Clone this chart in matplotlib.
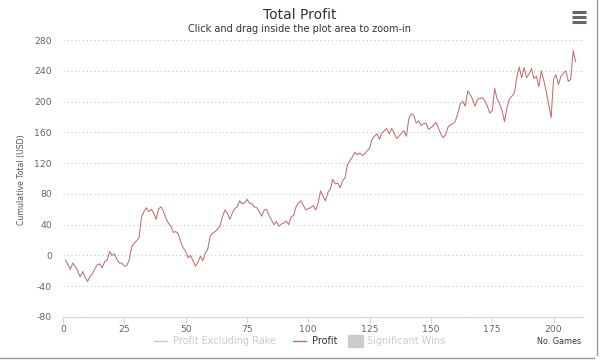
import matplotlib
matplotlib.use("Agg")
import matplotlib.pyplot as plt
from matplotlib.lines import Line2D
from matplotlib.patches import Rectangle

# ---- data -------------------------------------------------------------
profit = [
    -6, -12, -18, -10, -14, -20, -28, -21, -28, -34,
    -27, -24, -17, -12, -11, -16, -8, -6, 5, 0,
    2, -5, -10, -10, -14, -13, -6, 11, 16, 19,
    23, 50, 57, 62, 57, 60, 55, 47, 61, 63,
    57, 48, 42, 38, 30, 31, 28, 18, 10, 5,
    -3, 0, -7, -14, -9, -1, -7, 3, 8, 25,
    29, 31, 34, 38, 50, 59, 55, 47, 55, 61,
    63, 71, 67, 68, 73, 68, 67, 63, 62, 57,
    51, 59, 60, 52, 46, 40, 44, 38, 41, 42,
    45, 40, 50, 52, 63, 68, 71, 65, 59, 61,
    62, 65, 59, 68, 84, 77, 71, 82, 86, 99,
    93, 94, 88, 97, 101, 118, 123, 128, 134, 131,
    133, 130, 132, 136, 139, 151, 155, 158, 151, 159,
    162, 165, 158, 165, 159, 152, 155, 159, 162, 155,
    178, 184, 182, 172, 175, 169, 171, 172, 164, 166,
    169, 173, 166, 158, 153, 157, 167, 170, 171, 175,
    185, 197, 200, 194, 214, 209, 203, 194, 203, 204,
    205, 201, 194, 185, 188, 217, 203, 197, 188, 174,
    192, 203, 207, 211, 231, 245, 231, 244, 231, 236,
    243, 230, 233, 219, 240, 228, 213, 196, 179, 229,
    235, 222, 233, 237, 240, 226, 229, 266, 252,
]
games = list(range(1, len(profit) + 1))

x_ticks = [0, 25, 50, 75, 100, 125, 150, 175, 200]
y_ticks = [-80, -40, 0, 40, 80, 120, 160, 200, 240, 280]

title = "Total Profit"
subtitle = "Click and drag inside the plot area to zoom-in"
y_label = "Cumulative Total (USD)"
x_label = "No. Games"
legend_names = ["Profit Excluding Rake", "Profit", "Significant Wins"]

# ---- figure -----------------------------------------------------------
W, H = 601, 363
fig = plt.figure(figsize=(W / 100, H / 100), dpi=100)
fig.patch.set_facecolor("white")

def fx(px):
    return px / W

def fy(py):
    return 1 - py / H

left, right, top, bottom = 63, 583, 40, 317
ax = fig.add_axes([fx(left), fy(bottom), (right - left) / W, (bottom - top) / H])

line_color = "#c26e70"
ax.plot(games, profit, color=line_color, lw=0.75, solid_joinstyle="round")

ax.set_xlim(0, 212)
ax.set_ylim(-80, 280)
ax.set_xticks(x_ticks)
ax.set_yticks(y_ticks)
ax.set_xticklabels([str(v) for v in x_ticks])
ax.set_yticklabels([str(v) for v in y_ticks])

ax.yaxis.grid(True, linestyle=(0, (1, 2.5)), color="#c8c8c8", lw=0.8)
ax.set_axisbelow(True)
for s in ["top", "right", "left"]:
    ax.spines[s].set_visible(False)
ax.spines["bottom"].set_color("#ccd6eb")
ax.spines["bottom"].set_linewidth(0.8)

ax.tick_params(axis="y", length=0, pad=8, labelsize=6.7, labelcolor="#666666")
ax.tick_params(axis="x", length=4, width=0.8, color="#ccd6eb", pad=2,
               labelsize=6.7, labelcolor="#666666")

# titles
fig.text(fx(300), fy(15), title, ha="center", va="center", fontsize=10, color="#333333")
fig.text(fx(300), fy(29), subtitle, ha="center", va="center", fontsize=7, color="#333333")
fig.text(fx(22), fy(180), y_label, rotation=90, ha="center", va="center",
         fontsize=5.6, color="#555555")
fig.text(fx(581), fy(342), x_label, ha="right", va="center", fontsize=5.8, color="#333333")

# legend (manual, Highcharts style)
ly = 341
fig.add_artist(Line2D([fx(154), fx(167)], [fy(ly), fy(ly)], color="#cccccc", lw=1.0))
fig.text(fx(173), fy(ly), legend_names[0], ha="left", va="center", fontsize=7, color="#cccccc")
fig.add_artist(Line2D([fx(293), fx(306)], [fy(ly), fy(ly)], color=line_color, lw=1.0))
fig.text(fx(312), fy(ly), legend_names[1], ha="left", va="center", fontsize=7, color="#333333")
fig.add_artist(Rectangle((fx(348), fy(ly + 6)), 15 / W, 12 / H, color="#cccccc",
                         transform=fig.transFigure))
fig.text(fx(367), fy(ly), legend_names[2], ha="left", va="center", fontsize=7, color="#cccccc")

# menu icon
for yy in (12, 17, 22):
    fig.add_artist(Line2D([fx(572), fx(586)], [fy(yy), fy(yy)], color="#666666",
                          lw=2.2, solid_capstyle="butt"))

# outer frame (right / bottom)
fig.add_artist(Line2D([fx(597), fx(597)], [fy(0), fy(355)], color="#9a9a9a", lw=1.0))
fig.add_artist(Line2D([fx(0), fx(594)], [fy(358), fy(358)], color="#9a9a9a", lw=1.0))

fig.savefig("out.png", dpi=100, facecolor="white")
